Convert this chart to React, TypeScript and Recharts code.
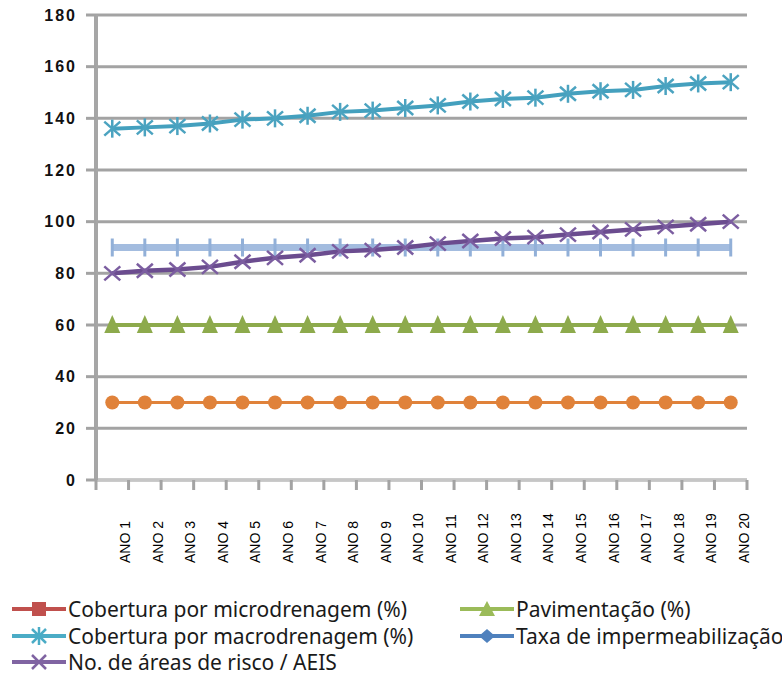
import React from 'react';
import { LineChart, Line, XAxis, YAxis, CartesianGrid } from 'recharts';

// Categories (x axis)
const anos = [
  'ANO 1', 'ANO 2', 'ANO 3', 'ANO 4', 'ANO 5', 'ANO 6', 'ANO 7', 'ANO 8', 'ANO 9', 'ANO 10',
  'ANO 11', 'ANO 12', 'ANO 13', 'ANO 14', 'ANO 15', 'ANO 16', 'ANO 17', 'ANO 18', 'ANO 19', 'ANO 20',
];

// Series values
const microdrenagem = [30, 30, 30, 30, 30, 30, 30, 30, 30, 30, 30, 30, 30, 30, 30, 30, 30, 30, 30, 30];
const pavimentacao = [60, 60, 60, 60, 60, 60, 60, 60, 60, 60, 60, 60, 60, 60, 60, 60, 60, 60, 60, 60];
const macrodrenagem = [136, 136.5, 137, 138, 139.5, 140, 141, 142.5, 143, 144, 145, 146.5, 147.5, 148, 149.5, 150.5, 151, 152.5, 153.5, 154];
const impermeabilizacao = [90, 90, 90, 90, 90, 90, 90, 90, 90, 90, 90, 90, 90, 90, 90, 90, 90, 90, 90, 90];
const areasRisco = [80, 81, 81.5, 82.5, 84.5, 86, 87, 88.5, 89, 90, 91.5, 92.5, 93.5, 94, 95, 96, 97, 98, 99, 100];

const yTicks = [0, 20, 40, 60, 80, 100, 120, 140, 160, 180];

const chartData = anos.map((ano, i) => ({
  ano,
  micro: microdrenagem[i],
  pav: pavimentacao[i],
  macro: macrodrenagem[i],
  taxa: impermeabilizacao[i],
  risco: areasRisco[i],
}));

const GRID = '#a3a3a3';

// --- markers ---
const CircleDot = (props: any) => {
  const { cx, cy, index } = props;
  if (cx == null || cy == null) return null;
  return <circle key={`c${index}`} cx={cx} cy={cy} r={7} fill="#E0823A" />;
};

const TriangleDot = (props: any) => {
  const { cx, cy, index } = props;
  if (cx == null || cy == null) return null;
  return (
    <polygon
      key={`t${index}`}
      points={`${cx - 8},${cy + 8} ${cx + 8},${cy + 8} ${cx},${cy - 10}`}
      fill="#8DAA4C"
    />
  );
};

const StarDot = (props: any) => {
  const { cx, cy, index } = props;
  if (cx == null || cy == null) return null;
  return (
    <g key={`s${index}`} stroke="#4BA3C0" strokeWidth={2.5}>
      <line x1={cx} y1={cy - 9} x2={cx} y2={cy + 9} />
      <line x1={cx - 8} y1={cy - 7} x2={cx + 8} y2={cy + 7} />
      <line x1={cx - 8} y1={cy + 7} x2={cx + 8} y2={cy - 7} />
    </g>
  );
};

const PlusDot = (props: any) => {
  const { cx, cy, index } = props;
  if (cx == null || cy == null) return null;
  return <line key={`p${index}`} x1={cx} y1={cy - 9} x2={cx} y2={cy + 9} stroke="#92B0D8" strokeWidth={3} />;
};

const CrossDot = (props: any) => {
  const { cx, cy, index } = props;
  if (cx == null || cy == null) return null;
  return (
    <g key={`x${index}`} stroke="#7B5DA0" strokeWidth={2.5}>
      <line x1={cx - 8} y1={cy - 7} x2={cx + 8} y2={cy + 7} />
      <line x1={cx - 8} y1={cy + 7} x2={cx + 8} y2={cy - 7} />
    </g>
  );
};

// x axis tick: tick marks between categories, rotated label
const AnoTick = (props: any) => {
  const { x, y, payload, index, width, visibleTicksCount } = props;
  const bw = width && visibleTicksCount ? width / visibleTicksCount : 32.55;
  const isLast = index === (visibleTicksCount || 20) - 1;
  return (
    <g>
      <line x1={x - bw / 2} y1={y} x2={x - bw / 2} y2={y + 10} stroke={GRID} strokeWidth={3} />
      {isLast && <line x1={x + bw / 2} y1={y} x2={x + bw / 2} y2={y + 10} stroke={GRID} strokeWidth={3} />}
      <g transform={`translate(${x + 13},${y + 83}) rotate(-90)`}>
        <text
          x={0}
          y={0}
          textAnchor="start"
          dominantBaseline="central"
          fontSize={14}
          fontFamily="Liberation Sans, Arial, sans-serif"
          fill="#000"
        >
          {payload.value}
        </text>
      </g>
    </g>
  );
};

// --- legend ---
const legendItems = [
  { label: 'Cobertura por microdrenagem (%)', color: '#C0504D', marker: 'square' },
  { label: 'Pavimentação (%)', color: '#9BBB59', marker: 'triangle' },
  { label: 'Cobertura por macrodrenagem (%)', color: '#4BACC6', marker: 'star' },
  { label: 'Taxa de impermeabilização', color: '#4F81BD', marker: 'diamond' },
  { label: 'No. de áreas de risco / AEIS', color: '#8064A2', marker: 'cross' },
];

function Swatch({ color, marker }: { color: string; marker: string }) {
  const cx = 27;
  const cy = 10;
  let m: React.ReactNode = null;
  if (marker === 'square') m = <rect x={cx - 7} y={cy - 7} width={14} height={14} fill={color} />;
  if (marker === 'triangle') m = <polygon points={`${cx - 8},${cy + 7} ${cx + 8},${cy + 7} ${cx},${cy - 8}`} fill={color} />;
  if (marker === 'diamond') m = <polygon points={`${cx - 8},${cy} ${cx},${cy - 7} ${cx + 8},${cy} ${cx},${cy + 7}`} fill={color} />;
  if (marker === 'star')
    m = (
      <g stroke={color} strokeWidth={2.5}>
        <line x1={cx} y1={cy - 9} x2={cx} y2={cy + 9} />
        <line x1={cx - 7} y1={cy - 7} x2={cx + 7} y2={cy + 7} />
        <line x1={cx - 7} y1={cy + 7} x2={cx + 7} y2={cy - 7} />
      </g>
    );
  if (marker === 'cross')
    m = (
      <g stroke={color} strokeWidth={2.5}>
        <line x1={cx - 7} y1={cy - 7} x2={cx + 7} y2={cy + 7} />
        <line x1={cx - 7} y1={cy + 7} x2={cx + 7} y2={cy - 7} />
      </g>
    );
  return (
    <svg width={54} height={20} style={{ display: 'block', flex: 'none' }}>
      <line x1={0} y1={cy} x2={54} y2={cy} stroke={color} strokeWidth={4} />
      {m}
    </svg>
  );
}

function LegendRow({ item, left, top }: { item: (typeof legendItems)[number]; left: number; top: number }) {
  return (
    <div style={{ position: 'absolute', left, top, display: 'flex', alignItems: 'center', whiteSpace: 'nowrap' }}>
      <Swatch color={item.color} marker={item.marker} />
      <span style={{ marginLeft: 2, fontSize: 21, lineHeight: '24px', color: '#1a1a1a' }}>{item.label}</span>
    </div>
  );
}

export default function App() {
  return (
    <div
      style={{
        position: 'absolute',
        left: 0,
        top: 0,
        width: 782,
        height: 676,
        background: '#fff',
        overflow: 'hidden',
        fontFamily: "'Noto Sans', 'Open Sans', sans-serif",
      }}
    >
      <LineChart width={782} height={600} data={chartData} margin={{ top: 15, right: 35, left: 0, bottom: 0 }}>
        <CartesianGrid vertical={false} stroke={GRID} strokeWidth={3} />
        <XAxis
          dataKey="ano"
          scale="band"
          height={120}
          interval={0}
          tickSize={0}
          tickMargin={0}
          tickLine={false}
          axisLine={{ stroke: '#c6c6c6', strokeWidth: 3 }}
          tick={<AnoTick />}
        />
        <YAxis
          width={96}
          domain={[0, 180]}
          ticks={yTicks}
          interval={0}
          tickSize={10}
          tickMargin={9}
          axisLine={{ stroke: '#a6a6a6', strokeWidth: 4 }}
          tickLine={{ stroke: GRID, strokeWidth: 3 }}
          tick={{ fontSize: 16, fontWeight: 700, fill: '#111', fontFamily: 'Liberation Sans, Arial, sans-serif', letterSpacing: 2 }}
        />
        <Line dataKey="micro" stroke="#E0823A" strokeWidth={3} dot={CircleDot} isAnimationActive={false} />
        <Line dataKey="pav" stroke="#8DAA4C" strokeWidth={4} dot={TriangleDot} isAnimationActive={false} />
        <Line dataKey="macro" stroke="#44A0BE" strokeWidth={4} dot={StarDot} isAnimationActive={false} />
        <Line dataKey="taxa" stroke="#A3BCDF" strokeWidth={7} dot={PlusDot} isAnimationActive={false} />
        <Line dataKey="risco" stroke="#6B4C8F" strokeWidth={4.5} dot={CrossDot} isAnimationActive={false} />
      </LineChart>

      <LegendRow item={legendItems[0]} left={12} top={597} />
      <LegendRow item={legendItems[1]} left={460} top={597} />
      <LegendRow item={legendItems[2]} left={12} top={624} />
      <LegendRow item={legendItems[3]} left={460} top={624} />
      <LegendRow item={legendItems[4]} left={12} top={650} />
    </div>
  );
}
